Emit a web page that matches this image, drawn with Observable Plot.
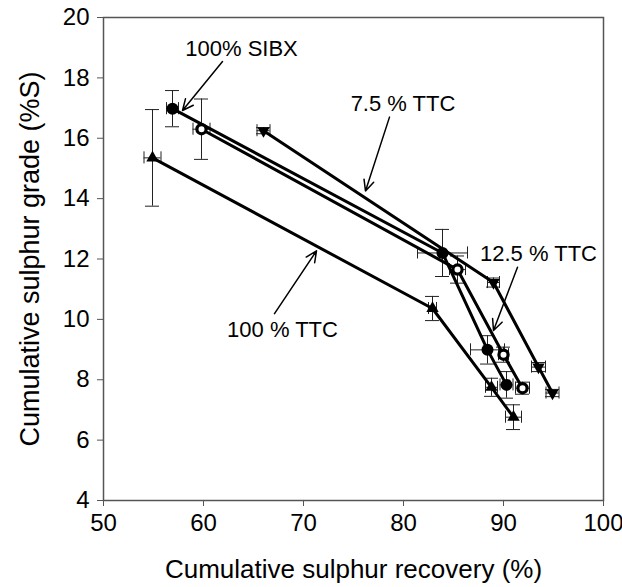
<!DOCTYPE html>
<html>
<head>
<meta charset="utf-8">
<script src="https://cdn.jsdelivr.net/npm/d3@7"></script>
<script src="https://cdn.jsdelivr.net/npm/@observablehq/plot@0.6"></script>
<style>
  html, body { margin: 0; padding: 0; background: white; }
</style>
</head>
<body>
<div id="chart"></div>
<script>
// ---- data ----
const seriesNames = ["100% SIBX", "12.5 % TTC", "7.5 % TTC", "100 % TTC"];

const sibxX    = [56.9, 83.9, 88.4, 90.3];
const sibxY    = [16.98, 12.2, 8.99, 7.83];
const sibxXErr = [0.6, 2.5, 1.7, 0.65];
const sibxYErr = [0.6, 0.78, 0.47, 0.44];

const ttc125X    = [59.8, 85.4, 90.0, 91.9];
const ttc125Y    = [16.3, 11.65, 8.83, 7.72];
const ttc125XErr = [0.85, 0.8, 0.5, 0.7];
const ttc125YErr = [1.0, 0.45, 0.25, 0.2];

const ttc75X    = [66.0, 89.0, 93.5, 94.9];
const ttc75Y    = [16.25, 11.22, 8.42, 7.56];
const ttc75XErr = [0.65, 0.6, 0.7, 0.65];
const ttc75YErr = [0.1, 0.15, 0.15, 0.12];

const ttc100X    = [54.9, 82.9, 88.8, 91.0];
const ttc100Y    = [15.35, 10.36, 7.75, 6.76];
const ttc100XErr = [0.85, 0.4, 0.6, 0.8];
const ttc100YErr = [1.6, 0.4, 0.3, 0.41];

const xTicks = [50, 60, 70, 80, 90, 100];
const yTicks = [4, 6, 8, 10, 12, 14, 16, 18, 20];
const xTitle = "Cumulative sulphur recovery (%)";
const yTitle = "Cumulative sulphur grade (%S)";

// annotations: label, text position, arrow start, arrow end (data units)
const annotLabels = ["100% SIBX", "7.5 % TTC", "12.5 % TTC", "100 % TTC"];
const annotTextX  = [63.8, 79.95, 93.5, 67.9];
const annotTextY  = [18.97, 17.14, 12.18, 9.65];
const arrowX1     = [61.9, 78.6, 91.4, 67.1];
const arrowY1     = [18.54, 16.70, 11.73, 10.19];
const arrowX2     = [57.9, 76.2, 89.0, 71.3];
const arrowY2     = [16.92, 14.25, 9.63, 12.27];

// ---- build tables ----
const raw = [
  [sibxX, sibxY, sibxXErr, sibxYErr],
  [ttc125X, ttc125Y, ttc125XErr, ttc125YErr],
  [ttc75X, ttc75Y, ttc75XErr, ttc75YErr],
  [ttc100X, ttc100Y, ttc100XErr, ttc100YErr]
];
const points = [];
raw.forEach(([xs, ys, xe, ye], s) => {
  xs.forEach((x, i) => points.push({series: seriesNames[s], x, y: ys[i], xe: xe[i], ye: ye[i]}));
});
const annots = annotLabels.map((label, i) => ({
  label, tx: annotTextX[i], ty: annotTextY[i],
  x1: arrowX1[i], y1: arrowY1[i], x2: arrowX2[i], y2: arrowY2[i]
}));

const capX = 0.7;   // half-width of vertical error-bar caps (x units)
const capY = 0.2;   // half-height of horizontal error-bar caps (y units)
const errColor = "#222";
const font = "'Liberation Sans', Arial, sans-serif";

const bySeries = name => points.filter(d => d.series === name);

const chart = Plot.plot({
  width: 622,
  height: 587,
  marginLeft: 103,
  marginRight: 19,
  marginTop: 17,
  marginBottom: 87,
  style: {fontFamily: font, fontSize: "24px", color: "black", background: "white", overflow: "visible"},
  x: {domain: [50, 100]},
  y: {domain: [4, 20]},
  marks: [
    // error bars
    Plot.ruleX(points, {x: "x", y1: d => d.y - d.ye, y2: d => d.y + d.ye, stroke: errColor, strokeWidth: 1}),
    Plot.ruleY(points, {y: d => d.y - d.ye, x1: d => d.x - capX, x2: d => d.x + capX, stroke: errColor, strokeWidth: 1}),
    Plot.ruleY(points, {y: d => d.y + d.ye, x1: d => d.x - capX, x2: d => d.x + capX, stroke: errColor, strokeWidth: 1}),
    Plot.ruleY(points, {y: "y", x1: d => d.x - d.xe, x2: d => d.x + d.xe, stroke: errColor, strokeWidth: 1}),
    Plot.ruleX(points, {x: d => d.x - d.xe, y1: d => d.y - capY, y2: d => d.y + capY, stroke: errColor, strokeWidth: 1}),
    Plot.ruleX(points, {x: d => d.x + d.xe, y1: d => d.y - capY, y2: d => d.y + capY, stroke: errColor, strokeWidth: 1}),
    // lines
    Plot.line(points, {x: "x", y: "y", z: "series", stroke: "black", strokeWidth: 3}),
    // markers
    Plot.dot(bySeries("100% SIBX"), {x: "x", y: "y", r: 6, fill: "black", stroke: "none"}),
    Plot.dot(bySeries("12.5 % TTC"), {x: "x", y: "y", r: 4.6, fill: "white", stroke: "black", strokeWidth: 3.2}),
    Plot.dot(bySeries("7.5 % TTC"), {x: "x", y: "y", r: 4.6, symbol: "triangle", rotate: 180, fill: "black", stroke: "none"}),
    Plot.dot(bySeries("100 % TTC"), {x: "x", y: "y", r: 4.6, symbol: "triangle", fill: "black", stroke: "none"}),
    // annotations
    Plot.arrow(annots, {x1: "x1", y1: "y1", x2: "x2", y2: "y2", stroke: "black", strokeWidth: 1.5, headLength: 12, headAngle: 50}),
    Plot.text(annots, {x: "tx", y: "ty", text: "label", fontSize: 22, fill: "black"}),
    // frame and axes
    Plot.frame({stroke: "#555", strokeWidth: 1.5}),
    Plot.axisX({ticks: xTicks, tickSize: 6, tickPadding: 7, stroke: "#555", fill: "black", fontSize: 24, label: null}),
    Plot.axisY({ticks: yTicks, tickSize: 6, tickPadding: 8, stroke: "#555", fill: "black", fontSize: 24, label: null}),
    Plot.text([xTitle], {frameAnchor: "bottom", dy: 77, text: d => d, fontSize: 26, fill: "black"}),
    Plot.text([yTitle], {frameAnchor: "left", dx: -73, rotate: -90, textAnchor: "middle", text: d => d, fontSize: 27, fill: "black"})
  ]
});
document.getElementById("chart").appendChild(chart);
</script>
</body>
</html>
